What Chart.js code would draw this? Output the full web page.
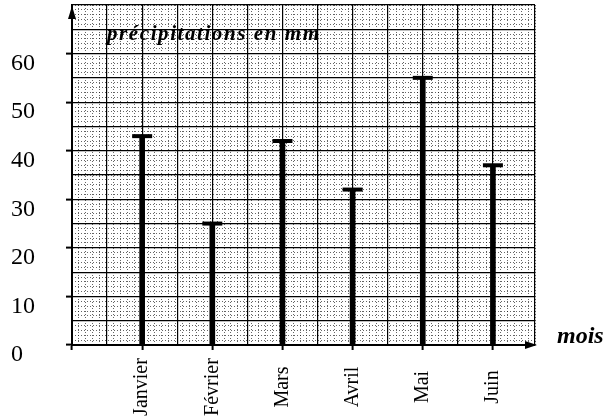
<!DOCTYPE html>
<html lang="fr">
<head>
<meta charset="UTF-8">
<title>Précipitations</title>
<script src="https://cdn.jsdelivr.net/npm/chart.js"></script>
<style>
  html, body { margin: 0; padding: 0; background: #fff; }
  #wrap { width: 606px; height: 420px; }
</style>
</head>
<body>
<div id="wrap"><canvas id="myChart" width="606" height="420"></canvas></div>
<script>
const months = ['Janvier', 'Février', 'Mars', 'Avril', 'Mai', 'Juin'];
const precip = [43, 25, 42, 32, 55, 37];
const yTicks = [0, 10, 20, 30, 40, 50, 60];
const yTitle = 'précipitations en mm';
const xTitle = 'mois';

const serif = "'Liberation Serif', 'Times New Roman', serif";
const isInt = v => Math.abs(v - Math.round(v)) < 1e-6;
const points = months.map((m, i) => ({ x: i + 1, y: precip[i] }));

// arrows, month labels and the two italic titles
const extras = {
  id: 'extras',
  afterDraw(chart) {
    const { ctx, scales: { x, y } } = chart;
    const x0 = x.getPixelForValue(0);
    const y0 = y.getPixelForValue(0);
    ctx.save();
    ctx.fillStyle = '#000';
    ctx.beginPath();
    ctx.moveTo(x0, y.top + 1);
    ctx.lineTo(x0 - 4, y.top + 14);
    ctx.lineTo(x0 + 4, y.top + 14);
    ctx.fill();
    ctx.beginPath();
    ctx.moveTo(x.right + 2, y0);
    ctx.lineTo(x.right - 10, y0 - 4);
    ctx.lineTo(x.right - 10, y0 + 4);
    ctx.fill();

    ctx.font = '20px ' + serif;
    ctx.textAlign = 'center';
    ctx.textBaseline = 'middle';
    months.forEach((m, i) => {
      ctx.save();
      ctx.translate(x.getPixelForValue(i + 1), 387);
      ctx.rotate(-Math.PI / 2);
      ctx.fillText(m, 0, 0);
      ctx.restore();
    });

    ctx.textAlign = 'left';
    ctx.textBaseline = 'alphabetic';
    ctx.font = 'italic bold 21px ' + serif;
    const w = ctx.measureText(yTitle).width;
    if (w < 212) ctx.letterSpacing = ((212 - w) / (yTitle.length - 1)).toFixed(2) + 'px';
    ctx.fillText(yTitle, 107, 40);
    ctx.letterSpacing = '0px';
    ctx.font = 'italic bold 24px ' + serif;
    ctx.fillText(xTitle, 557, 343);
    ctx.restore();
  }
};

new Chart(document.getElementById('myChart'), {
  type: 'bar',
  data: {
    datasets: [
      {
        type: 'bar',
        data: points,
        backgroundColor: '#000',
        barThickness: 5,
        order: 2
      },
      {
        type: 'scatter',
        data: points,
        pointStyle: 'line',
        radius: 10,
        borderWidth: 4,
        borderColor: '#000',
        clip: false,
        order: 1
      }
    ]
  },
  options: {
    responsive: false,
    animation: false,
    layout: { autoPadding: false, padding: { left: 11, top: 5, right: 71, bottom: 0 } },
    plugins: { legend: { display: false }, tooltip: { enabled: false } },
    scales: {
      x: {
        type: 'linear',
        min: 0,
        max: 6.6,
        offset: false,
        afterFit: s => { s.height = 75; s.paddingLeft = 0; s.paddingRight = 0; },
        ticks: { stepSize: 0.5, autoSkip: false, display: false },
        grid: {
          offset: false,
          color: '#000',
          lineWidth: 1.2,
          tickLength: 5,
          tickWidth: 2,
          tickColor: c => (c.tick && isInt(c.tick.value) ? '#000' : 'rgba(0,0,0,0)')
        },
        border: { color: '#000', width: 2 }
      },
      y: {
        min: 0,
        max: 70,
        afterFit: s => { s.width = 61; s.paddingTop = 0; s.paddingBottom = 0; },
        ticks: {
          stepSize: 5,
          autoSkip: false,
          crossAlign: 'far',
          labelOffset: 10,
          color: '#000',
          font: { family: serif, size: 24 },
          callback: v => (yTicks.includes(v) ? String(v) : '')
        },
        grid: {
          color: '#000',
          lineWidth: 1.2,
          tickLength: 6,
          tickWidth: 2,
          tickColor: c => (c.tick && yTicks.includes(c.tick.value) ? '#000' : 'rgba(0,0,0,0)')
        },
        border: { color: '#000', width: 2 }
      },
      // fine graph-paper lines
      xMinor: {
        type: 'linear',
        position: 'bottom',
        min: 0,
        max: 6.6,
        z: -1,
        afterFit: s => { s.height = 0; },
        ticks: { stepSize: 0.1, display: false },
        grid: { color: 'rgba(0,0,0,0.6)', lineWidth: 1, drawTicks: false },
        border: { display: false, dash: [1, 2] }
      },
      yMinor: {
        type: 'linear',
        position: 'left',
        min: 0,
        max: 70,
        z: -1,
        afterFit: s => { s.width = 0; },
        ticks: { stepSize: 1, display: false },
        grid: { color: 'rgba(0,0,0,0.6)', lineWidth: 1, drawTicks: false },
        border: { display: false, dash: [1, 2] }
      }
    }
  },
  plugins: [extras]
});
</script>
</body>
</html>
